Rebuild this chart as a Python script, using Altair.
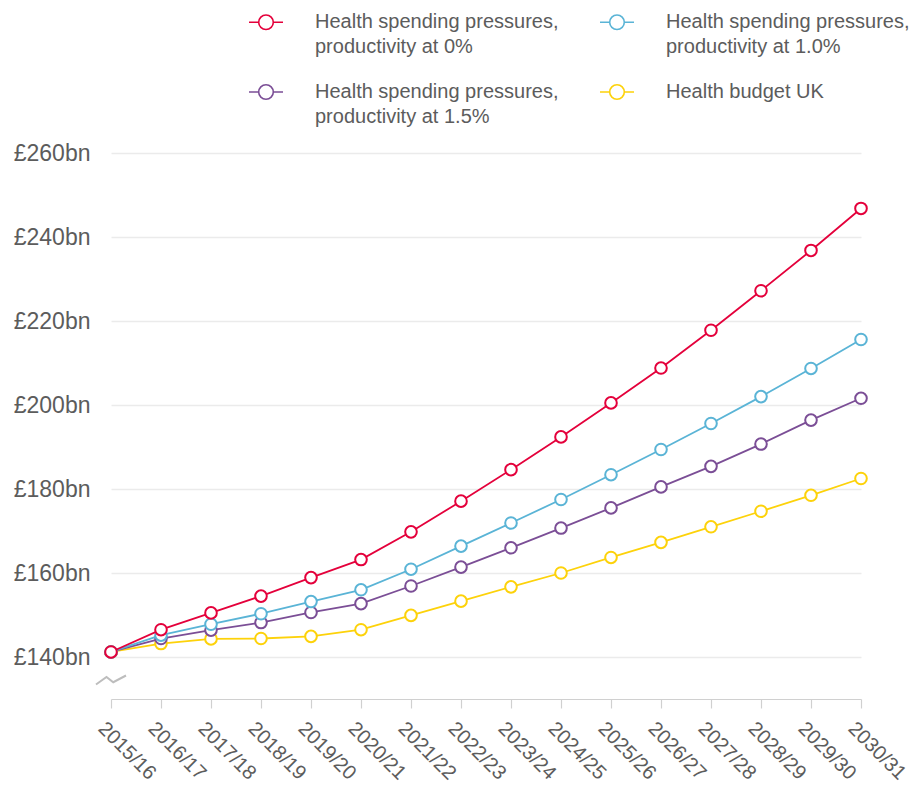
import altair as alt
import pandas as pd

years = ["2015/16", "2016/17", "2017/18", "2018/19", "2019/20", "2020/21",
         "2021/22", "2022/23", "2023/24", "2024/25", "2025/26", "2026/27",
         "2027/28", "2028/29", "2029/30", "2030/31"]

series_names = [
    "Health spending pressures, productivity at 0%",
    "Health spending pressures, productivity at 1.0%",
    "Health spending pressures, productivity at 1.5%",
    "Health budget UK",
]
series_colors = ["#e4003b", "#5ab4d6", "#7b4e96", "#fdd20a"]

prod_0 = [141.2, 146.5, 150.5, 154.5, 158.9, 163.2, 169.8, 177.1, 184.6, 192.4,
          200.5, 208.8, 217.8, 227.2, 236.8, 246.8]
prod_10 = [141.2, 145.2, 147.8, 150.3, 153.2, 156.0, 160.9, 166.4, 171.9, 177.5,
           183.4, 189.4, 195.6, 202.0, 208.7, 215.6]
prod_15 = [141.2, 144.4, 146.4, 148.2, 150.6, 152.7, 156.9, 161.4, 166.0, 170.7,
           175.5, 180.5, 185.4, 190.7, 196.4, 201.6]
budget = [141.2, 143.2, 144.3, 144.4, 144.9, 146.5, 149.9, 153.3, 156.7, 160.0,
          163.7, 167.3, 171.0, 174.7, 178.5, 182.5]

y_ticks = [140, 160, 180, 200, 220, 240, 260]

rows = []
for name, vals in zip(series_names, [prod_0, prod_10, prod_15, budget]):
    for yr, v in zip(years, vals):
        rows.append({"year": yr, "series": name, "value": v})
df = pd.DataFrame(rows)

TXT = "#5c5c5c"
LEG_SYMBOL = ("M-1,0L-0.43,0M0.43,0L1,0M0.43,0A0.43,0.43,0,1,1,-0.43,0"
              "A0.43,0.43,0,1,1,0.43,0Z")

split_expr = ("indexof(datum.label, ', ') > 0 ? "
              "[slice(datum.label, 0, indexof(datum.label, ', ') + 1), "
              "slice(datum.label, indexof(datum.label, ', ') + 2)] : datum.label")

color = alt.Color(
    "series:N",
    scale=alt.Scale(domain=series_names, range=series_colors),
    legend=alt.Legend(
        title=None, orient="none", legendX=137, legendY=-149,
        columns=2, direction="horizontal",
        symbolType=LEG_SYMBOL, symbolSize=1156, symbolStrokeWidth=1.6,
        symbolFillColor="white",
        labelFontSize=20, labelColor=TXT, labelLimit=400, labelOffset=31,
        labelFont="Liberation Sans",
        columnPadding=37, rowPadding=17, padding=0,
        labelExpr=split_expr, labelBaseline="middle",
    ),
)

x = alt.X(
    "year:O", sort=years, title=None,
    scale=alt.Scale(type="point", padding=0),
    axis=alt.Axis(
        labelAngle=45, labelAlign="left", labelBaseline="top",
        labelFontSize=20, labelColor=TXT, labelPadding=10, labelOffset=-3,
        tickSize=9, tickColor="#d0d0d0", tickWidth=1.2,
        domainColor="#d0d0d0", domainWidth=1.2, grid=False,
        labelFont="Liberation Sans",
    ),
)
y = alt.Y(
    "value:Q", title=None,
    scale=alt.Scale(domain=[130, 260], nice=False, zero=False),
    axis=alt.Axis(
        values=y_ticks, labelExpr="'£' + datum.value + 'bn'",
        labelFontSize=23, labelColor=TXT, labelPadding=21,
        ticks=False, domain=False, grid=True,
        gridColor="#ebebeb", gridWidth=1.5,
        labelFont="Liberation Sans",
    ),
)

base = alt.Chart(df)
layers = []
for name in reversed(series_names):
    sub = base.transform_filter(alt.datum.series == name)
    layers.append(sub.mark_line(strokeWidth=1.8).encode(x=x, y=y, color=color))
    layers.append(
        sub.mark_point(filled=False, fill="white", size=135, strokeWidth=2, opacity=1)
        .encode(x=x, y=y, color=color)
    )

axis_break = alt.Chart(alt.Data(values=[{"b": 1}])).mark_point(
    shape="M-1,0.3L-0.3,-0.2L0.15,0.15L1,-0.3",
    size=900, filled=False, stroke="#bdbdbd", strokeWidth=2, opacity=1,
).encode(x=alt.value(0), y=alt.value(527))

chart = (
    alt.layer(*layers, axis_break)
    .properties(
        width=750, height=546, background="white",
        autosize=alt.AutoSizeParams(type="none"),
        padding={"left": 103, "top": 145, "right": 51, "bottom": 93},
    )
    .configure(
        view=alt.ViewConfig(stroke=None),
        style={"guide-label": {"lineHeight": 24.5}},
    )
)

chart.save("out.html", embed_options={"renderer": "svg", "actions": False})
